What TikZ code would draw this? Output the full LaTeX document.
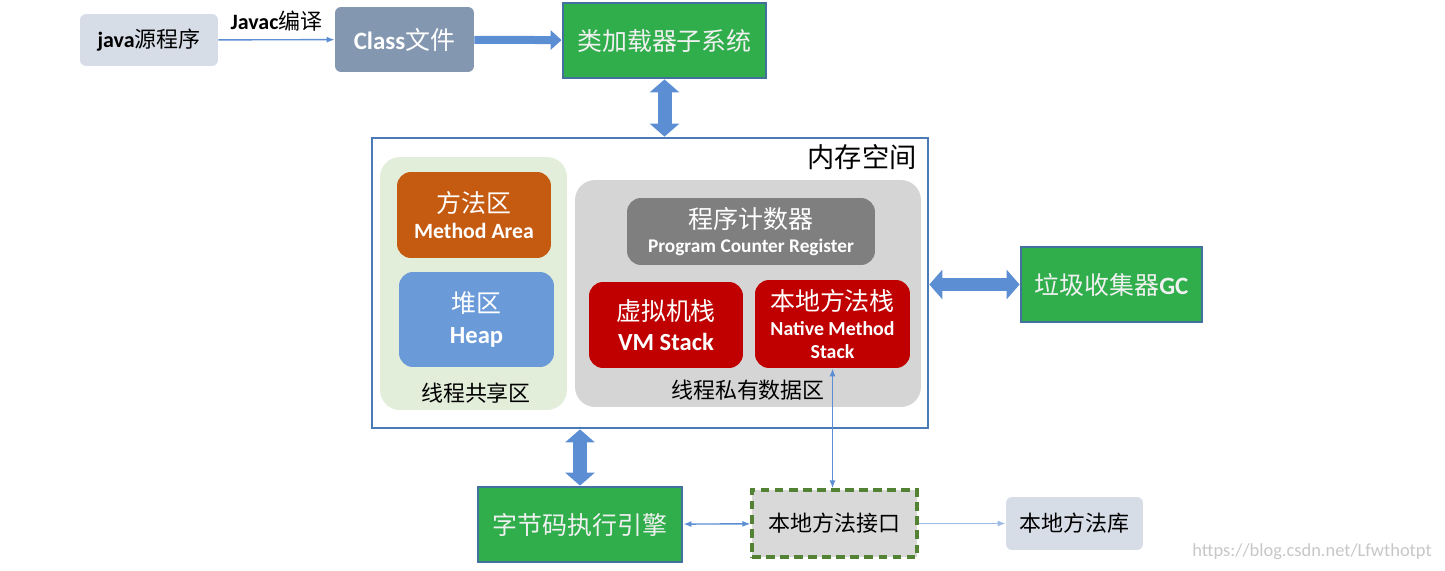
\documentclass[tikz,border=0pt]{standalone}
\usepackage{fontspec}
\setmainfont{Noto Sans CJK SC}
\newfontfamily\lat{Carlito}
\usetikzlibrary{arrows.meta,positioning}
\definecolor{paleblue}{HTML}{D7DDE7}
\definecolor{slate}{HTML}{8497B0}
\definecolor{jvmgreen}{HTML}{2FAE4B}
\definecolor{edgeblue}{HTML}{41719C}
\definecolor{memblue}{HTML}{4A7BB7}
\definecolor{sharedgreen}{HTML}{E3EEDA}
\definecolor{methodorange}{HTML}{C55A11}
\definecolor{heapblue}{HTML}{6A9BD8}
\definecolor{privgray}{HTML}{D6D5D5}
\definecolor{pcgray}{HTML}{7F7F7F}
\definecolor{stackred}{HTML}{C00000}
\definecolor{jnigray}{HTML}{D9D9D9}
\definecolor{dashgreen}{HTML}{548235}
\definecolor{arrowblue}{HTML}{5B8ED3}
\newcommand{\bigtxt}{\fontsize{14.2}{17}\selectfont}
\newcommand{\midtxt}{\fontsize{12.5}{15}\selectfont}
\begin{document}
\begin{tikzpicture}[x=0.02cm,y=-0.02cm,
  box/.style={inner sep=0pt, align=center, rounded corners=0.12cm},
  greenbox/.style={box, rounded corners=0pt, fill=jvmgreen, draw=edgeblue, line width=1.6pt, text=white!94!black},
  area/.style={box, rounded corners=0.4cm},
  inbox/.style={box, rounded corners=0.28cm, text=white},
  fat/.style={line width=0.16cm, draw=arrowblue, -{Triangle[length=0.22cm,width=0.38cm]}},
  fatboth/.style={line width=0.28cm, draw=arrowblue, {Triangle[length=0.26cm,width=0.58cm]}-{Triangle[length=0.26cm,width=0.58cm]}},
  thin/.style={line width=0.8pt, draw=arrowblue, -{Latex[length=0.16cm,width=0.12cm]}}]
\useasboundingbox (0,0) rectangle (1445,571);

% top row
\node[box, fill=paleblue, minimum width=2.76cm, minimum height=1.04cm] (java) at (149,40) {\midtxt{\lat\bfseries java}源程序};
\node[box, fill=slate, text=white, minimum width=2.78cm, minimum height=1.30cm] (cls) at (404.5,39.5) {\bigtxt{\lat\bfseries Class}文件};
\node[greenbox, minimum width=4.06cm, minimum height=1.5cm] (loader) at (664.5,40.5) {\bigtxt 类加载器子系统};

% memory space
\node[draw=memblue, line width=1.6pt, minimum width=11.12cm, minimum height=5.8cm] (mem) at (650,283) {};
\node (memtitle) at (862,157) {\fontsize{15.5}{18}\selectfont 内存空间};

\node[area, fill=sharedgreen, minimum width=3.74cm, minimum height=5.06cm] (shared) at (473.5,283.5) {};
\node[inbox, fill=methodorange, minimum width=3.08cm, minimum height=1.72cm] (method) at (474,215) {\bigtxt 方法区\\[3pt]{\lat\bfseries\fontsize{12.4}{15}\selectfont Method Area}};
\node[inbox, fill=heapblue, minimum width=3.1cm, minimum height=1.9cm] (heap) at (476.5,319.5) {\bigtxt 堆区\\[5.5pt]{\lat\bfseries\fontsize{14}{16}\selectfont Heap}};
\node (sharedlabel) at (476,393) {\midtxt 线程共享区};

\node[area, fill=privgray, minimum width=6.92cm, minimum height=4.54cm] (private) at (748,293.5) {};
\node[inbox, fill=pcgray, minimum width=4.96cm, minimum height=1.34cm] (pc) at (751,231.5) {\bigtxt 程序计数器\\[1.5pt]{\lat\bfseries\fontsize{11}{13}\selectfont Program Counter Register}};
\node[inbox, fill=stackred, minimum width=3.08cm, minimum height=1.72cm] (vm) at (666,325) {\bigtxt 虚拟机栈\\[5pt]{\lat\bfseries\fontsize{14}{16}\selectfont VM Stack}};
\node[inbox, fill=stackred, minimum width=3.1cm, minimum height=1.76cm] (nstack) at (832.5,324) {\bigtxt 本地方法栈\\[2pt]{\lat\bfseries\fontsize{11.3}{13.5}\selectfont Native Method}\\[1pt]{\lat\bfseries\fontsize{11.3}{13.5}\selectfont Stack}};
\node (privlabel) at (748,390) {\midtxt 线程私有数据区};

% right and bottom
\node[greenbox, minimum width=3.62cm, minimum height=1.5cm] (gc) at (1111.5,284.5) {\bigtxt 垃圾收集器{\lat\bfseries GC}};
\node[greenbox, minimum width=4.08cm, minimum height=1.5cm] (engine) at (580,524.5) {\bigtxt 字节码执行引擎};
\node[box, rounded corners=0pt, fill=jnigray, draw=dashgreen, line width=1.8pt, dash pattern=on 5pt off 3pt, minimum width=3.3cm, minimum height=1.34cm] (jni) at (834.5,523.5) {\midtxt 本地方法接口};
\node[box, fill=paleblue, minimum width=2.74cm, minimum height=1.06cm] (lib) at (1074.5,523.5) {\midtxt 本地方法库};

% connectors
\draw[thin] (java) -- node[above=1pt, text=black] (javac) {\midtxt{\lat\bfseries Javac}编译} (cls);
\draw[fat] (cls) -- (loader);
\draw[fatboth] (loader.south) -- (loader.south |- mem.north);
\draw[fatboth] (mem.east |- gc) -- (gc.west);
\draw[fatboth] (engine.north |- mem.south) -- (engine.north);
\draw[thin, {Latex[length=0.16cm,width=0.12cm]}-{Latex[length=0.16cm,width=0.12cm]}] (engine) -- (jni);
\draw[thin, draw=arrowblue!60!white] (jni) -- (lib);
\draw[thin, {Latex[length=0.16cm,width=0.12cm]}-{Latex[length=0.16cm,width=0.12cm]}] (nstack.south) -- (nstack.south |- jni.north);

\node[text=black!22, anchor=east] (mark) at (1438,552) {\lat\fontsize{10.5}{12}\selectfont https://blog.csdn.net/Lfwthotpt};
\end{tikzpicture}
\end{document}
